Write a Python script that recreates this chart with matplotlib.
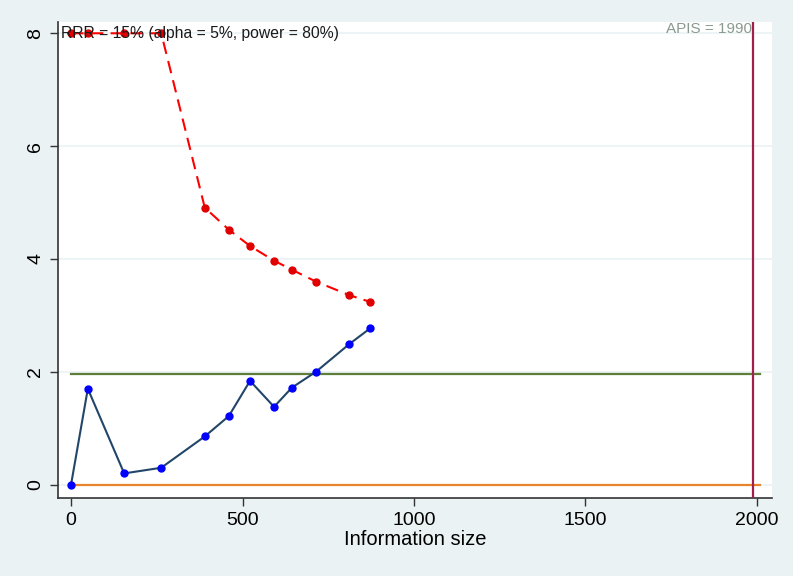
import matplotlib
matplotlib.use("Agg")
import matplotlib.pyplot as plt

plt.rcParams['font.family'] = ['Liberation Sans', 'DejaVu Sans']

# Data
info_size = [0, 49, 155, 263, 390, 460, 522, 592, 644, 714, 811, 872]
z_curve = [0, 1.70, 0.20, 0.30, 0.855, 1.215, 1.84, 1.38, 1.72, 2.00, 2.49, 2.77]
boundary = [8, 8, 8, 8, 4.91, 4.52, 4.23, 3.97, 3.81, 3.60, 3.36, 3.24]
z_crit = 1.96
line_end = 2010
apis = 1990
xticks = [0, 500, 1000, 1500, 2000]
yticks = [0, 2, 4, 6, 8]
annot = "RRR = 15% (alpha = 5%, power = 80%)"
apis_label = "APIS = 1990"
xlabel = "Information size"

bg = '#EAF2F3'
fig = plt.figure(figsize=(7.93, 5.76), dpi=100, facecolor=bg)
ax = fig.add_axes([58/793, 1-498/576, (772-58)/793, (498-22)/576])
ax.set_facecolor('white')
ax.set_xlim(-38, 2044)
ax.set_ylim(-0.236, 8.20)

for yv in yticks:
    ax.axhline(yv, color=bg, lw=1.2, zorder=0)

ax.plot([0, line_end], [0, 0], color='#E8842A', lw=1.6, zorder=2)
ax.plot([0, line_end], [z_crit, z_crit], color='#5E7F3C', lw=1.6, zorder=2)
ax.axvline(apis, color='#A0204A', lw=1.6, zorder=3)

ax.plot(info_size, boundary, color='#FF0000', lw=1.5, ls=(0, (6, 3.5)),
        marker='o', ms=5, mfc='#E00000', mec='#E00000', zorder=4)
ax.plot(info_size, z_curve, color='#22466A', lw=1.5,
        marker='o', ms=5, mfc='#0000FF', mec='#0000FF', zorder=5)

ax.text(-28, 8.0, annot, fontsize=11.3, color='#1a1a1a', va='center', ha='left', zorder=6)
ax.text(apis - 5, 8.20, apis_label, fontsize=11, color='#8A9A8F', va='top', ha='right', zorder=6)

ax.set_xticks(xticks)
ax.set_yticks(yticks)
ax.set_xticklabels([str(v) for v in xticks], fontsize=14)
ax.set_yticklabels([str(v) for v in yticks], fontsize=14, rotation=90, va='center')
ax.tick_params(axis='both', direction='out', length=6, width=1, color='#333333', pad=4)
ax.set_xlabel(xlabel, fontsize=14.5, labelpad=1)

for s in ['top', 'right']:
    ax.spines[s].set_visible(False)
for s in ['left', 'bottom']:
    ax.spines[s].set_color('#333333')
    ax.spines[s].set_linewidth(1.2)

fig.savefig('out.png', dpi=100, facecolor=bg)
